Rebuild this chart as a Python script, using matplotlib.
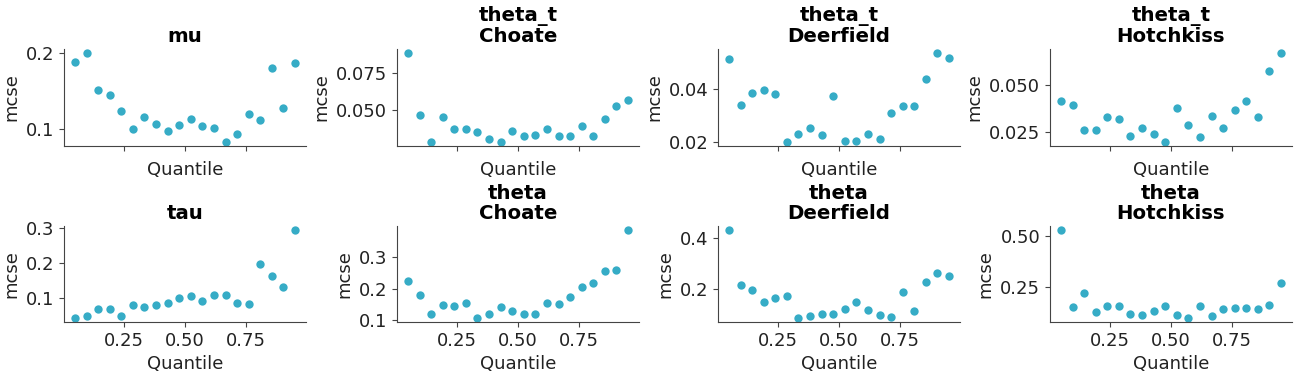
import numpy as np
import matplotlib.pyplot as plt

# quantile positions (x) shared by every panel
quantiles = [0.05, 0.0974, 0.1447, 0.1921, 0.2395, 0.2868, 0.3342, 0.3816, 0.4289, 0.4763,
             0.5237, 0.5711, 0.6184, 0.6658, 0.7132, 0.7605, 0.8079, 0.8553, 0.9026, 0.95]

titles = ["mu", "theta_t\nChoate", "theta_t\nDeerfield", "theta_t\nHotchkiss",
          "tau", "theta\nChoate", "theta\nDeerfield", "theta\nHotchkiss"]

mcse_mu = [0.189, 0.200, 0.152, 0.145, 0.123, 0.100, 0.115, 0.107, 0.097, 0.105,
           0.113, 0.104, 0.101, 0.083, 0.093, 0.119, 0.111, 0.180, 0.128, 0.187]
mcse_theta_t_choate = [0.0886, 0.0470, 0.0286, 0.0450, 0.0375, 0.0375, 0.0348, 0.0302, 0.0286, 0.0361,
                       0.0327, 0.0334, 0.0375, 0.0327, 0.0327, 0.0395, 0.0327, 0.0443, 0.0525, 0.0566]
mcse_theta_t_deerfield = [0.0515, 0.0342, 0.0388, 0.0396, 0.0381, 0.0200, 0.0231, 0.0254, 0.0227, 0.0373,
                          0.0204, 0.0204, 0.0231, 0.0209, 0.0308, 0.0338, 0.0338, 0.0438, 0.0538, 0.0519]
mcse_theta_t_hotchkiss = [0.0416, 0.0398, 0.0264, 0.0261, 0.0334, 0.0323, 0.0232, 0.0270, 0.0238, 0.0200,
                          0.0382, 0.0291, 0.0227, 0.0339, 0.0270, 0.0371, 0.0416, 0.0334, 0.0575, 0.0671]
mcse_tau = [0.045, 0.050, 0.070, 0.070, 0.050, 0.081, 0.075, 0.081, 0.086, 0.101,
            0.106, 0.092, 0.111, 0.111, 0.086, 0.083, 0.198, 0.163, 0.131, 0.294]
mcse_theta_choate = [0.225, 0.181, 0.122, 0.150, 0.147, 0.156, 0.109, 0.122, 0.141, 0.131,
                     0.119, 0.122, 0.156, 0.153, 0.175, 0.206, 0.219, 0.256, 0.259, 0.384]
mcse_theta_deerfield = [0.430, 0.216, 0.196, 0.149, 0.165, 0.173, 0.087, 0.095, 0.103, 0.103,
                        0.122, 0.149, 0.118, 0.099, 0.091, 0.188, 0.114, 0.227, 0.262, 0.251]
mcse_theta_hotchkiss = [0.529, 0.152, 0.221, 0.128, 0.157, 0.157, 0.118, 0.113, 0.132, 0.157,
                        0.113, 0.098, 0.157, 0.108, 0.142, 0.147, 0.147, 0.142, 0.162, 0.270]

series = [mcse_mu, mcse_theta_t_choate, mcse_theta_t_deerfield, mcse_theta_t_hotchkiss,
          mcse_tau, mcse_theta_choate, mcse_theta_deerfield, mcse_theta_hotchkiss]

W, H = 1295, 376
fig = plt.figure(figsize=(W / 100, H / 100), dpi=100)

text_color = "#222222"
lefts = [64, 397, 718, 1050]
rows = [(49, 146), (226, 322)]  # top, bottom in pixels

for i, (title, vals) in enumerate(zip(titles, series)):
    r, c = divmod(i, 4)
    top, bottom = rows[r]
    ax = fig.add_axes([lefts[c] / W, (H - bottom) / H, 242 / W, (bottom - top) / H])
    ax.plot(quantiles, vals, "o", color="#36acc6", markersize=6, markeredgewidth=0)
    ax.set_title(title, fontsize=14.2, fontweight="bold", color="black", linespacing=1.1, pad=5)
    ax.set_xlabel("Quantile", fontsize=13, color=text_color)
    ax.set_ylabel("mcse", fontsize=13, color=text_color)
    ax.tick_params(labelsize=13, colors="#444444", labelcolor=text_color, length=3.5)
    ax.spines["top"].set_visible(False)
    ax.spines["right"].set_visible(False)
    for s in ("left", "bottom"):
        ax.spines[s].set_color("#444444")
    ax.set_xlim(0.005, 0.995)
    ax.set_xticks([0.25, 0.5, 0.75])
    if r == 0:
        ax.set_xticklabels([])
    else:
        ax.set_xticklabels(["0.25", "0.50", "0.75"])

fig.savefig("out.png", dpi=100)
